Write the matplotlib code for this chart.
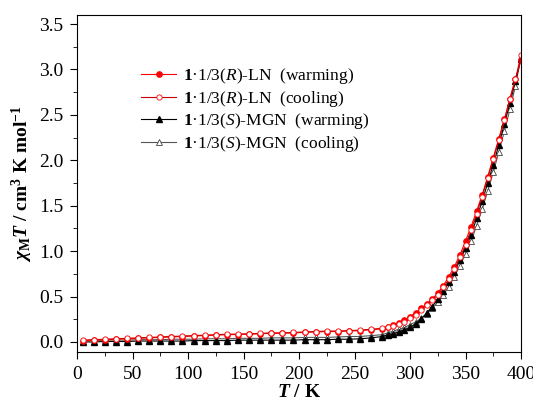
import numpy as np
import matplotlib
matplotlib.use("Agg")
import matplotlib.pyplot as plt
from matplotlib.ticker import MultipleLocator, FormatStrFormatter

plt.rcParams["font.family"] = ["Liberation Serif", "Noto Sans CJK SC"]
plt.rcParams["mathtext.fontset"] = "custom"
plt.rcParams["mathtext.rm"] = "Liberation Serif"
plt.rcParams["mathtext.it"] = "Liberation Serif:italic"
plt.rcParams["mathtext.bf"] = "Liberation Serif:bold"
plt.rcParams["mathtext.bfit"] = "Liberation Serif:italic:bold"

# ── data ───────────────────────────────────────────────────────────────────────
temps_low = [5, 15, 25, 35, 45, 55, 65, 75, 85, 95, 105, 115, 125, 135,
             145, 155, 165, 175, 185, 195, 205, 215, 225, 235, 245, 255, 265, 275]
temps_high = [280, 285, 290, 295, 300, 305, 310, 315, 320, 325, 330, 335, 340,
              345, 350, 355, 360, 365, 370, 375, 380, 385, 390, 395, 400]
temps = temps_low + temps_high

r_warm = [0.015, 0.02, 0.025, 0.03, 0.035, 0.04, 0.045, 0.05, 0.055, 0.06, 0.065,
          0.07, 0.075, 0.08, 0.082, 0.085, 0.09, 0.095, 0.095, 0.10, 0.105, 0.11,
          0.115, 0.115, 0.12, 0.125, 0.135, 0.145,
          0.17, 0.19, 0.21, 0.24, 0.28, 0.32, 0.37, 0.42, 0.47, 0.54, 0.62, 0.72,
          0.83, 0.96, 1.11, 1.27, 1.44, 1.62, 1.82, 2.03, 2.24, 2.45, 2.68, 2.90, 3.10]
r_cool = [0.02, 0.025, 0.03, 0.035, 0.04, 0.045, 0.05, 0.055, 0.06, 0.065, 0.07,
          0.075, 0.08, 0.085, 0.087, 0.09, 0.095, 0.10, 0.10, 0.105, 0.11, 0.115,
          0.12, 0.12, 0.125, 0.13, 0.14, 0.15,
          0.16, 0.18, 0.20, 0.22, 0.26, 0.30, 0.35, 0.41, 0.46, 0.52, 0.60, 0.69,
          0.80, 0.93, 1.07, 1.23, 1.41, 1.60, 1.80, 2.01, 2.22, 2.44, 2.67, 2.89, 3.16]
s_warm = [0.0, 0.0, 0.005, 0.005, 0.005, 0.01, 0.01, 0.01, 0.01, 0.01, 0.015,
          0.015, 0.015, 0.015, 0.02, 0.02, 0.02, 0.02, 0.02, 0.02, 0.025, 0.025,
          0.025, 0.03, 0.03, 0.035, 0.045, 0.06,
          0.08, 0.09, 0.11, 0.13, 0.16, 0.20, 0.25, 0.32, 0.39, 0.47, 0.56, 0.66,
          0.77, 0.90, 1.03, 1.18, 1.36, 1.55, 1.75, 1.95, 2.17, 2.40, 2.63, 2.87, 3.12]
s_cool = [0.015, 0.015, 0.02, 0.02, 0.02, 0.025, 0.025, 0.025, 0.03, 0.03, 0.03,
          0.035, 0.035, 0.035, 0.04, 0.04, 0.04, 0.045, 0.045, 0.045, 0.05, 0.05,
          0.05, 0.055, 0.06, 0.06, 0.07, 0.08,
          0.10, 0.12, 0.14, 0.16, 0.19, 0.22, 0.26, 0.31, 0.37, 0.44, 0.52, 0.61,
          0.72, 0.84, 0.97, 1.11, 1.28, 1.46, 1.66, 1.87, 2.09, 2.32, 2.56, 2.82, 3.14]

labels = [
    r"$\mathbf{1}$·1/3($\mathit{R}$)-LN  (warming)",
    r"$\mathbf{1}$·1/3($\mathit{R}$)-LN  (cooling)",
    r"$\mathbf{1}$·1/3($\mathit{S}$)-MGN  (warming)",
    r"$\mathbf{1}$·1/3($\mathit{S}$)-MGN  (cooling)",
]

# ── figure ─────────────────────────────────────────────────────────────────────
fig = plt.figure(figsize=(5.33, 4.05), dpi=100)
ax = fig.add_axes([0.1445, 0.131, 0.833, 0.832])

ms = 3.8
ax.plot(temps, s_cool, color="#555555", lw=0.8, marker="^", ms=ms,
        mfc="white", mec="#444444", mew=0.6, label=labels[3])
ax.plot(temps, s_warm, color="black", lw=0.8, marker="^", ms=ms,
        mfc="black", mec="black", label=labels[2])
ax.plot(temps, r_warm, color="red", lw=0.8, marker="o", ms=ms,
        mfc="red", mec="red", label=labels[0])
ax.plot(temps, r_cool, color="#cc0000", lw=0.8, marker="o", ms=ms,
        mfc="white", mec="red", mew=0.6, label=labels[1])

ax.set_xlim(0, 400)
ax.set_ylim(-0.11, 3.6)
ax.xaxis.set_major_locator(MultipleLocator(50))
ax.xaxis.set_minor_locator(MultipleLocator(25))
ax.yaxis.set_major_locator(MultipleLocator(0.5))
ax.yaxis.set_minor_locator(MultipleLocator(0.25))
ax.yaxis.set_major_formatter(FormatStrFormatter("%.1f"))
ax.tick_params(which="both", direction="out", top=False, right=False,
               labelsize=14)
ax.tick_params(which="major", length=5, pad=5)
ax.tick_params(which="minor", length=3)

ax.set_xlabel(r"$\mathbfit{T}$ / K", fontsize=14, fontweight="bold", labelpad=1)
ax.set_ylabel(r"$\mathbfit{\chi}_{\mathbf{M}}\mathbfit{T}$ / cm$^{\mathbf{3}}$ K mol$^{\mathbf{-1}}$",
              fontsize=14, fontweight="bold", labelpad=3)

h, l = ax.get_legend_handles_labels()
order = [2, 3, 1, 0]
ax.legend([h[i] for i in order], [l[i] for i in order], loc="upper left",
          bbox_to_anchor=(0.11, 0.895), frameon=False, fontsize=12.5,
          handlelength=2.0, labelspacing=0.15, handletextpad=0.4)

fig.savefig("out.png", dpi=100)
